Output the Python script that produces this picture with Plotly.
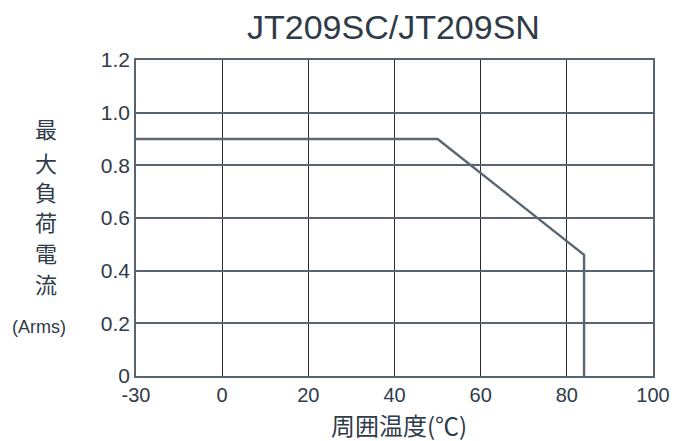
import plotly.graph_objects as go

# Data (ambient temperature in °C, max load current in Arms)
temp_c = [-30, 50, 84, 84]
current_arms = [0.9, 0.9, 0.46, 0.0]

x_tick_labels = ["-30", "0", "20", "40", "60", "80", "100"]
x_tick_values = [-30, 0, 20, 40, 60, 80, 100]
y_tick_values = [0, 0.2, 0.4, 0.6, 0.8, 1.0, 1.2]
y_tick_labels = ["0", "0.2", "0.4", "0.6", "0.8", "1.0", "1.2"]
y_label_chars = ["最", "大", "負", "荷", "電", "流"]


def xpos(v):
    # The chart draws the -30..0 segment with the width of one 20° division
    return v * 20.0 / 30.0 if v < 0 else v


FONT = "Liberation Sans, Arial, sans-serif"
CJK = "Noto Sans CJK JP, Noto Sans CJK SC, sans-serif"
TXT = "#2f3b48"
GRID = "#5a6470"

fig = go.Figure()
fig.add_trace(go.Scatter(
    x=[xpos(v) for v in temp_c], y=current_arms,
    mode="lines", line=dict(color="#5c6671", width=2.4),
    showlegend=False, hoverinfo="skip",
))

fig.update_layout(
    width=674, height=433,
    margin=dict(l=128, r=26, t=52, b=65),
    paper_bgcolor="white", plot_bgcolor="white",
    title=dict(text="JT209SC/JT209SN", xref="paper", x=0.498, xanchor="center",
               yref="container", y=0.957, yanchor="middle",
               font=dict(family=FONT, size=34, color=TXT)),
    xaxis=dict(
        range=[xpos(-30), 100],
        tickvals=[xpos(v) for v in x_tick_values], ticktext=x_tick_labels,
        showgrid=True, gridcolor="#242c36", gridwidth=1,
        showline=True, linecolor=GRID, linewidth=1.6, mirror=True,
        zeroline=False, ticks="", ticklen=0,
        tickfont=dict(family=FONT, size=20, color=TXT),
    ),
    yaxis=dict(
        range=[0, 1.2],
        tickvals=y_tick_values, ticktext=y_tick_labels,
        showgrid=True, gridcolor=GRID, gridwidth=1.7,
        showline=True, linecolor=GRID, linewidth=1.6, mirror=True,
        zeroline=False, ticks="", ticklen=0,
        tickfont=dict(family=FONT, size=21, color=TXT),
    ),
)

# vertical y-axis label, one character per line
char_y = [0.785, 0.677, 0.585, 0.491, 0.392, 0.294]
for ch, yy in zip(y_label_chars, char_y):
    fig.add_annotation(text=ch, xref="paper", yref="paper", x=-0.175, y=yy,
                       xanchor="center", yanchor="middle", showarrow=False,
                       font=dict(family=CJK, size=22, color=TXT))
fig.add_annotation(text="(Arms)", xref="paper", yref="paper", x=-0.188, y=0.155,
                   xanchor="center", yanchor="middle", showarrow=False,
                   font=dict(family=FONT, size=18, color=TXT))

# x-axis title
fig.add_annotation(text="周囲温度(℃)", xref="paper", yref="paper", x=0.508, y=-0.152,
                   xanchor="center", yanchor="middle", showarrow=False,
                   font=dict(family=CJK, size=24, color=TXT))

fig.write_html("out.html")
